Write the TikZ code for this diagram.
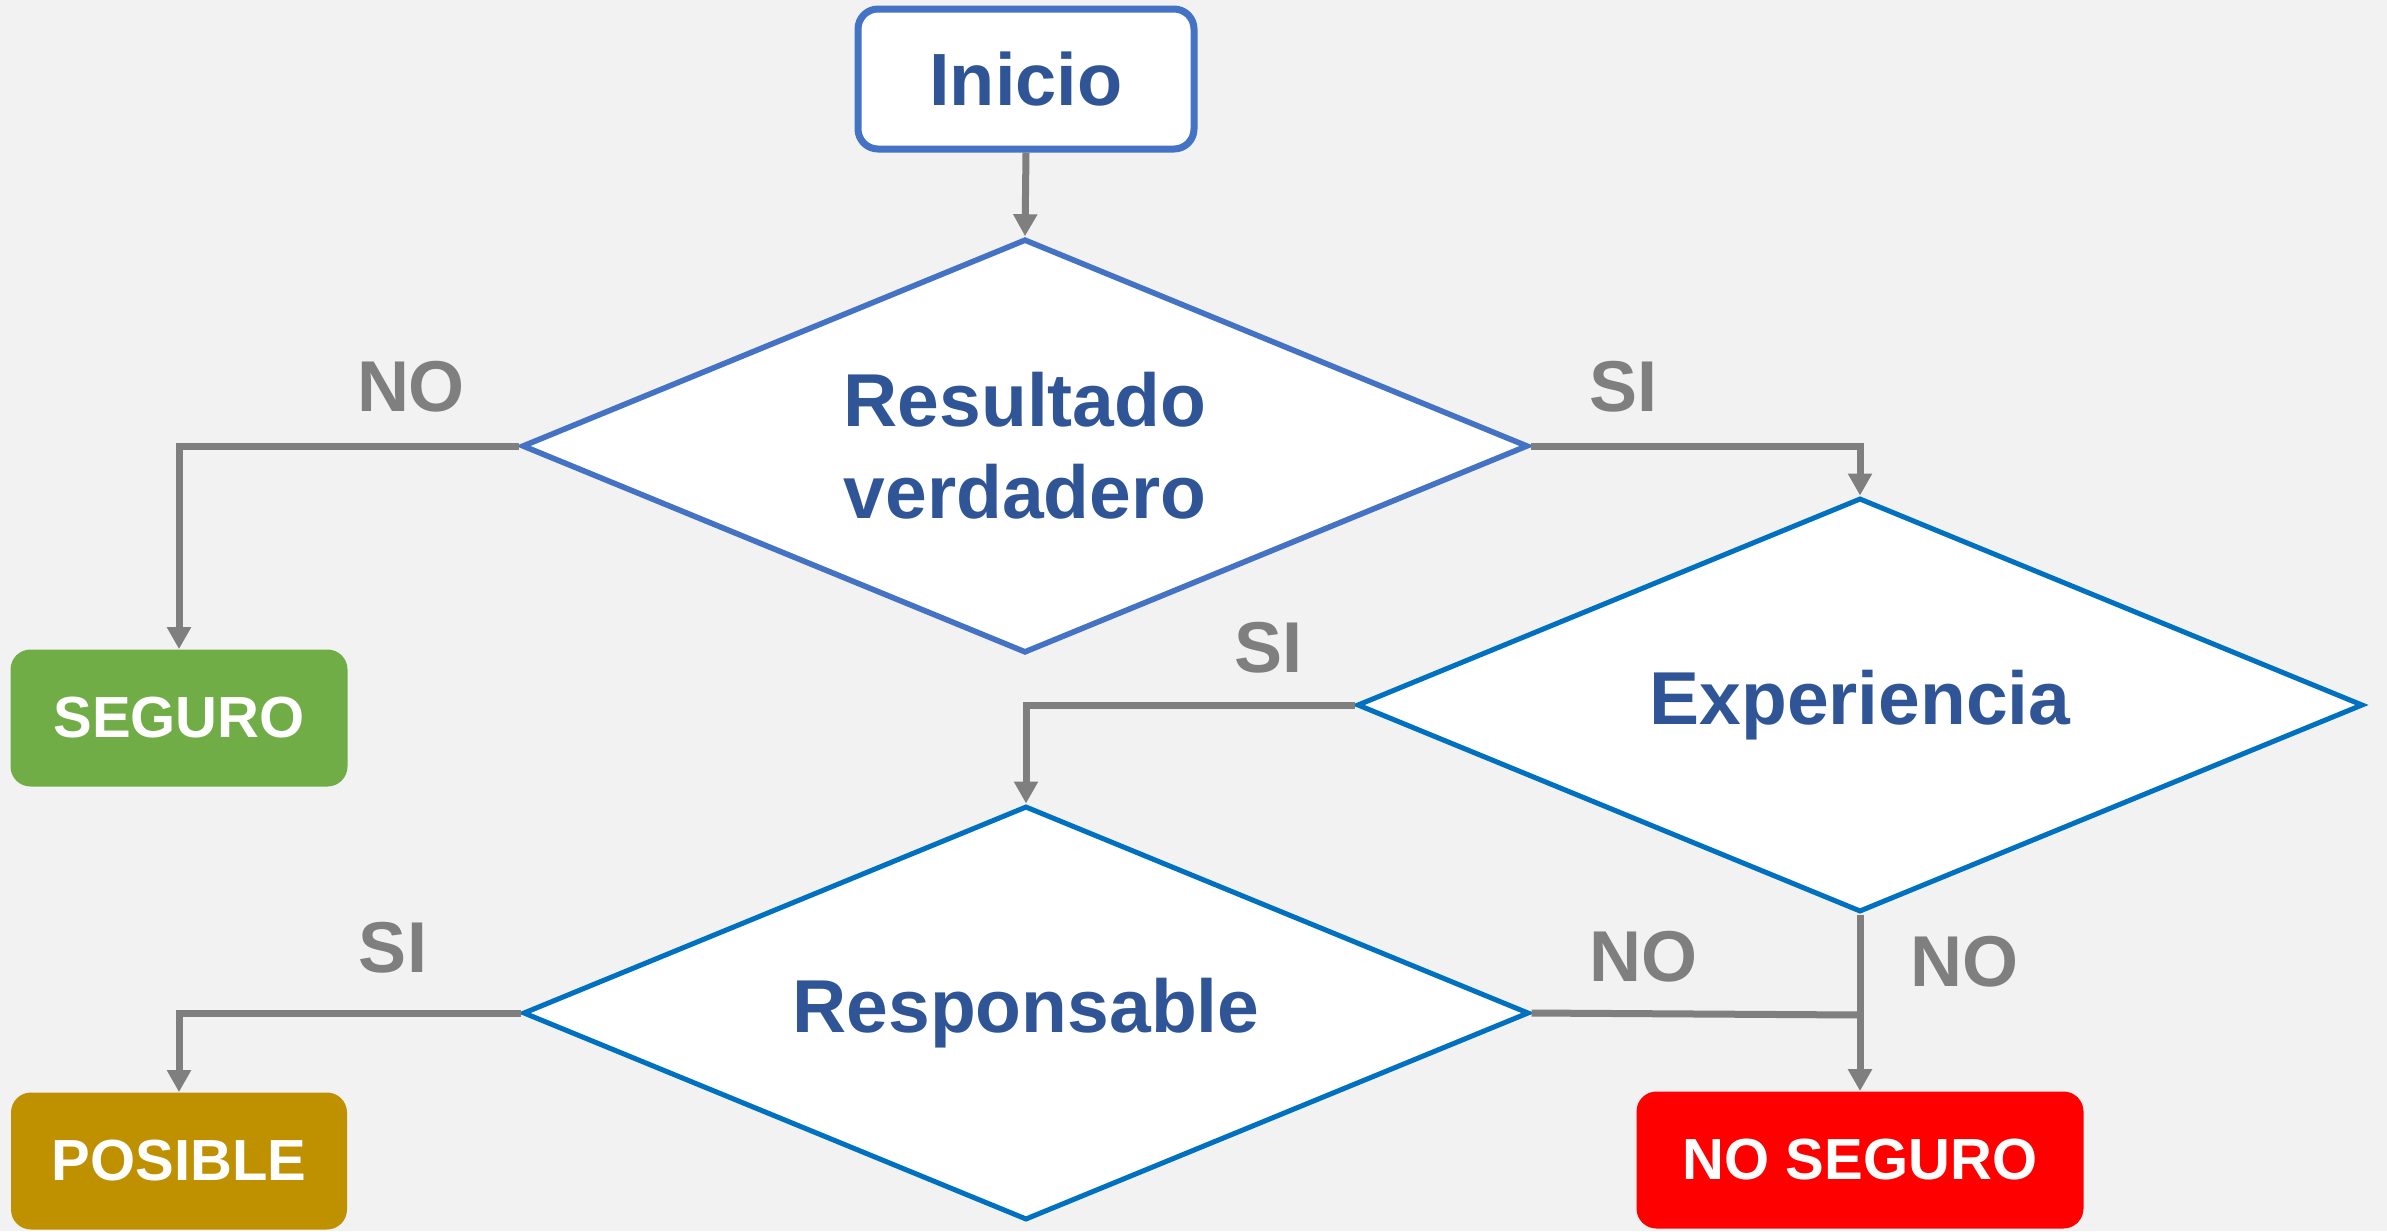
\documentclass[tikz,border=0pt]{standalone}
\usepackage{fontspec}
\setmainfont{Liberation Sans}
\usetikzlibrary{shapes.geometric,arrows.meta}
\definecolor{bg}{HTML}{F2F2F2}
\definecolor{blueA}{HTML}{4472C4}
\definecolor{blueB}{HTML}{0070C0}
\definecolor{txtblue}{HTML}{2F5597}
\definecolor{lgray}{HTML}{7F7F7F}
\definecolor{okgreen}{HTML}{70AD47}
\definecolor{gold}{HTML}{BF9000}
\definecolor{alertred}{HTML}{FF0000}
\begin{document}
\begin{tikzpicture}[x=0.5pt,y=-0.5pt,
  decision/.style={diamond, draw, fill=white, inner sep=0pt, shape aspect=2.43,
    minimum width=503pt, minimum height=207pt, align=center,
    text=txtblue, font=\bfseries\fontsize{37.5}{46}\selectfont},
  startbox/.style={rectangle, rounded corners=10pt, draw=blueA, line width=3.5pt, fill=white,
    minimum width=168pt, minimum height=70pt, text=txtblue, font=\bfseries\fontsize{37}{44}\selectfont},
  endbox/.style={rectangle, rounded corners=10pt, minimum height=68.5pt, text=white,
    font=\bfseries\fontsize{29}{35}\selectfont},
  conn/.style={draw=lgray, line width=3.5pt},
  arr/.style={conn, -{Triangle[width=11.5pt,length=11pt]}},
  lbl/.style={text=lgray, font=\bfseries\fontsize{36}{42}\selectfont}
]
\fill[bg] (0,0) rectangle (2387,1231);
\useasboundingbox (0,0) rectangle (2387,1231);

\node[startbox] (ini) at (1026,79) {Inicio};
\node[decision, draw=blueA, line width=2.8pt] (d1) at (1025,446) {Resultado\\verdadero};
\node[decision, draw=blueB, line width=2.5pt] (d2) at (1860,705) {Experiencia};
\node[decision, draw=blueB, line width=2.5pt] (d3) at (1026,1013) {Responsable};

\node[endbox, fill=okgreen, minimum width=168.5pt] (seg) at (179,718) {SEGURO};
\node[endbox, fill=gold, minimum width=168pt] (pos) at (179,1161) {POSIBLE};
\node[endbox, fill=alertred, minimum width=223.5pt] (nos) at (1860,1160) {NO SEGURO};

\coordinate (j) at (1860,1015);

\draw[arr] (ini.south) -- (d1.north);
\draw[arr] (d1.west) -| (seg.north);
\draw[arr] (d1.east) -| (d2.north);
\draw[arr] (d2.west) -| (d3.north);
\draw[arr] (d3.west) -| (pos.north);
\draw[conn] (d3.east) -- (j);
\draw[arr] (d2.south) -- (nos.north);

\node[lbl] (l1) at (411,387) {NO};
\node[lbl] (l2) at (1623,387) {SI};
\node[lbl] (l3) at (1268,648) {SI};
\node[lbl] (l4) at (393,948) {SI};
\node[lbl] (l5) at (1643,957) {NO};
\node[lbl] (l6) at (1964,962) {NO};
\end{tikzpicture}
\end{document}
